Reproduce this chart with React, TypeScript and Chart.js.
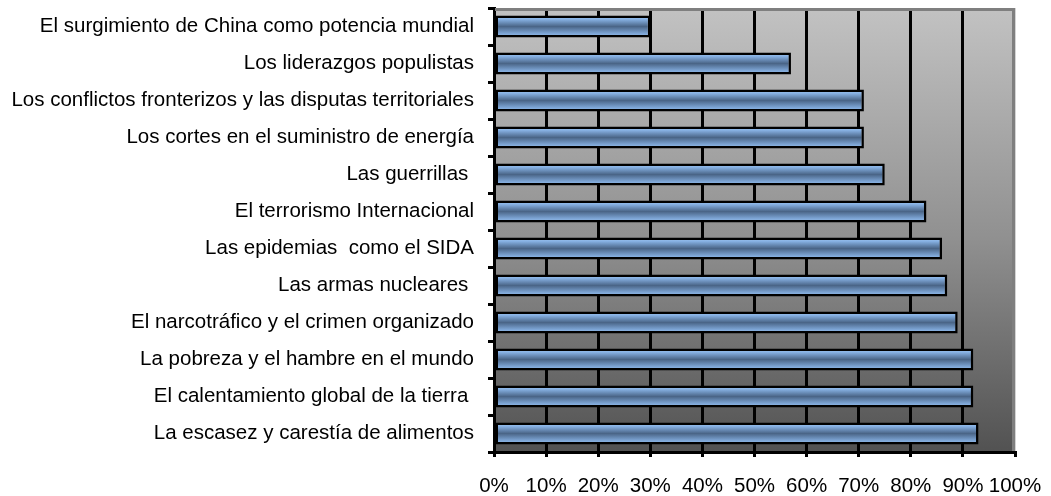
import React, { useEffect, useRef } from "react";
import { Chart, registerables } from "chart.js";

Chart.register(...registerables);

const categories: string[] = [
  "El surgimiento de China como potencia mundial",
  "Los liderazgos populistas",
  "Los conflictos fronterizos y las disputas territoriales",
  "Los cortes en el suministro de energía",
  "Las guerrillas ",
  "El terrorismo Internacional",
  "Las epidemias  como el SIDA",
  "Las armas nucleares ",
  "El narcotráfico y el crimen organizado",
  "La pobreza y el hambre en el mundo",
  "El calentamiento global de la tierra ",
  "La escasez y carestía de alimentos",
];

const values: number[] = [0.3, 0.57, 0.71, 0.71, 0.75, 0.83, 0.86, 0.87, 0.89, 0.92, 0.92, 0.93];

const xTickValues: number[] = [0, 0.1, 0.2, 0.3, 0.4, 0.5, 0.6, 0.7, 0.8, 0.9, 1];

const CAT_PCT = 0.6;
const BAR_PCT = 1;
const FONT = "'Liberation Sans', Arial, sans-serif";

const zeroPad = (s: any) => {
  s.paddingLeft = 0;
  s.paddingRight = 0;
  s.paddingTop = 0;
  s.paddingBottom = 0;
};

const plotBackground = {
  id: "plotBackground",
  beforeDraw(chart: any) {
    const { ctx, chartArea: a } = chart;
    if (!a) return;
    ctx.save();
    const g = ctx.createLinearGradient(0, a.top, 0, a.bottom);
    g.addColorStop(0, "#c2c2c2");
    g.addColorStop(0.52, "#909090");
    g.addColorStop(1, "#525252");
    ctx.fillStyle = g;
    ctx.fillRect(a.left, a.top, a.right - a.left, a.bottom - a.top);
    ctx.restore();
  },
  afterDraw(chart: any) {
    const { ctx, chartArea: a } = chart;
    if (!a) return;
    ctx.save();
    ctx.strokeStyle = "#7f7f7f";
    ctx.lineWidth = 3;
    ctx.beginPath();
    ctx.moveTo(a.left + 1, a.top + 1.5);
    ctx.lineTo(a.right - 1.5, a.top + 1.5);
    ctx.lineTo(a.right - 1.5, a.bottom - 1);
    ctx.stroke();
    ctx.strokeStyle = "#d4d4d4";
    ctx.lineWidth = 1;
    ctx.beginPath();
    ctx.moveTo(a.right + 0.5, a.top);
    ctx.lineTo(a.right + 0.5, a.bottom - 1);
    ctx.stroke();
    ctx.restore();
  },
};

export default function App() {
  const ref = useRef<HTMLCanvasElement>(null);

  useEffect(() => {
    if (!ref.current) return;
    const chart = new Chart(ref.current, {
      type: "bar",
      data: {
        labels: categories,
        datasets: [
          {
            data: values,
            borderColor: "#000000",
            borderWidth: 2.5,
            borderSkipped: false,
            categoryPercentage: CAT_PCT,
            barPercentage: BAR_PCT,
            backgroundColor: (c: any) => {
              const ch = c.chart;
              const a = ch.chartArea;
              const ys = ch.scales && ch.scales.y;
              if (!a || !ys || c.dataIndex === undefined) return "#6a8fbf";
              const center = ys.getPixelForValue(c.dataIndex);
              const h = ((a.bottom - a.top) / categories.length) * CAT_PCT * BAR_PCT;
              const g = ch.ctx.createLinearGradient(0, center - h / 2, 0, center + h / 2);
              g.addColorStop(0, "#a8cff8");
              g.addColorStop(0.18, "#86b0e2");
              g.addColorStop(0.5, "#4a6587");
              g.addColorStop(0.82, "#7ea6d6");
              g.addColorStop(1, "#9cc5f2");
              return g;
            },
          },
        ],
      },
      options: {
        indexAxis: "y",
        animation: false,
        responsive: true,
        maintainAspectRatio: false,
        layout: { padding: { top: 8, right: 36, left: 0, bottom: 0 } },
        plugins: {
          legend: { display: false },
          tooltip: { enabled: false },
          title: { display: false },
        },
        scales: {
          x: {
            min: 0,
            max: 1,
            afterFit: (s: any) => {
              s.height = 44;
              zeroPad(s);
            },
            afterBuildTicks: (s: any) => {
              s.ticks = xTickValues.map((v) => ({ value: v }));
            },
            ticks: {
              color: "#000000",
              padding: 17,
              maxRotation: 0,
              autoSkip: false,
              font: { family: FONT, size: 20.5 },
              callback: (v: any) => Math.round(Number(v) * 100) + "%",
            },
            grid: {
              color: (c: any) => (c.index === xTickValues.length - 1 ? "rgba(0,0,0,0)" : "#000000"),
              tickColor: "#000000",
              lineWidth: 3,
              tickLength: 5,
              drawTicks: true,
            },
            border: { display: true, color: "#000000", width: 3 },
          },
          y: {
            afterFit: (s: any) => {
              s.width = 494;
              zeroPad(s);
            },
            ticks: {
              color: "#000000",
              padding: 14,
              autoSkip: false,
              font: { family: FONT, size: 20.5 },
            },
            grid: {
              drawOnChartArea: false,
              drawTicks: true,
              tickLength: 6,
              tickColor: "#000000",
              color: "#000000",
              lineWidth: 3,
              offset: true,
            },
            border: { display: true, color: "#000000", width: 3 },
          },
        },
      },
      plugins: [plotBackground],
    } as any);
    return () => chart.destroy();
  }, []);

  return (
    <div style={{ position: "absolute", left: 0, top: 0, width: 1051, height: 496, background: "#ffffff" }}>
      <canvas ref={ref} />
    </div>
  );
}
